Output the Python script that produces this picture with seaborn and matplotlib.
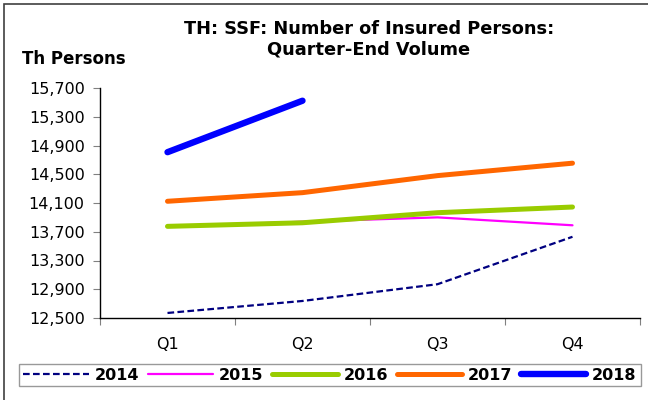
import numpy as np
import pandas as pd
import matplotlib.pyplot as plt
import seaborn as sns
from matplotlib.ticker import FuncFormatter, FixedLocator
from matplotlib.patches import Rectangle

# Data (thousand persons)
quarters = ['Q1', 'Q2', 'Q3', 'Q4']
years = ['2014', '2015', '2016', '2017', '2018']
v2014 = [12570, 12737, 12970, 13630]
v2015 = [13770, 13840, 13900, 13790]
v2016 = [13775, 13825, 13965, 14044]
v2017 = [14124, 14244, 14481, 14654]
v2018 = [14807, 15523, np.nan, np.nan]
yticks = [12500, 12900, 13300, 13700, 14100, 14500, 14900, 15300, 15700]

series = [v2014, v2015, v2016, v2017, v2018]
df = pd.concat([pd.DataFrame({'Quarter': quarters, 'Year': y, 'Value': v})
                for y, v in zip(years, series)], ignore_index=True)
df['x'] = df['Quarter'].map({q: i for i, q in enumerate(quarters)})

colors = {'2014': '#000080', '2015': '#FF00FF', '2016': '#99CC00',
          '2017': '#FF6600', '2018': '#0000FF'}
widths = {'2014': 1.6, '2015': 1.6, '2016': 3.6, '2017': 3.6, '2018': 4.6}
dashes = {'2014': (3, 1.5), '2015': '', '2016': '', '2017': '', '2018': ''}

sns.set_style('white')
plt.rcParams['font.family'] = ['DejaVu Sans']
plt.rcParams['text.color'] = 'black'
plt.rcParams['xtick.color'] = 'black'
plt.rcParams['ytick.color'] = 'black'

fig = plt.figure(figsize=(6.48, 4.0), dpi=100)
ax = fig.add_axes([100 / 648, 1 - 318 / 400, 540 / 648, 230 / 400])

for y in years:
    sub = df[df['Year'] == y].dropna()
    sns.lineplot(data=sub, x='x', y='Value', ax=ax, color=colors[y],
                 linewidth=widths[y], label=y, sort=False,
                 solid_capstyle='round', dash_capstyle='butt')
    if dashes[y]:
        ax.lines[-1].set_dashes(dashes[y])

ax.set_xlim(-0.5, 3.5)
ax.set_ylim(12500, 15700)
ax.set_yticks(yticks)
ax.yaxis.set_major_formatter(FuncFormatter(lambda v, p: f'{int(v):,}'))
ax.set_xticks(range(4))
ax.set_xticklabels(quarters)
ax.xaxis.set_minor_locator(FixedLocator([-0.5, 0.5, 1.5, 2.5, 3.5]))
ax.tick_params(axis='x', which='major', length=0, pad=14, labelsize=11.5,
               labelcolor='black')
ax.tick_params(axis='x', which='minor', length=5, width=0.8, color='#808080',
               direction='out', bottom=True)
ax.tick_params(axis='y', length=5, width=0.8, color='#808080',
               direction='out', left=True, labelsize=11.5, pad=6,
               labelcolor='black')
ax.set_xlabel('')
ax.set_ylabel('')
for s in ['top', 'right']:
    ax.spines[s].set_visible(False)
for s in ['left', 'bottom']:
    ax.spines[s].set_color('black')
    ax.spines[s].set_linewidth(1.0)

fig.text(369 / 648, 1 - 39 / 400, 'TH: SSF: Number of Insured Persons:\nQuarter-End Volume',
         ha='center', va='center', fontsize=12.8, fontweight='bold',
         linespacing=1.15, color='black')
fig.text(22 / 648, 1 - 59 / 400, 'Th Persons', ha='left', va='center',
         fontsize=12, fontweight='bold', color='black')

ax.get_legend().remove()
handles, labels = ax.get_legend_handles_labels()
leg = fig.legend(handles, labels, loc='center', ncol=5,
                 bbox_to_anchor=(330 / 648, 1 - 375 / 400),
                 frameon=True, fancybox=False, edgecolor='#808080',
                 prop={'weight': 'bold', 'size': 11.5}, handlelength=4.1,
                 columnspacing=0.55, handletextpad=0.35, borderpad=0.25)
leg.get_frame().set_linewidth(1.0)
for t in leg.get_texts():
    t.set_color('black')

# outer chart border
fig.patches.append(Rectangle((4 / 648, -0.01), 1.0, 1 - 4 / 400 + 0.01,
                             transform=fig.transFigure, fill=False,
                             edgecolor='#404040', linewidth=1.2))

fig.savefig('out.png', dpi=100)
